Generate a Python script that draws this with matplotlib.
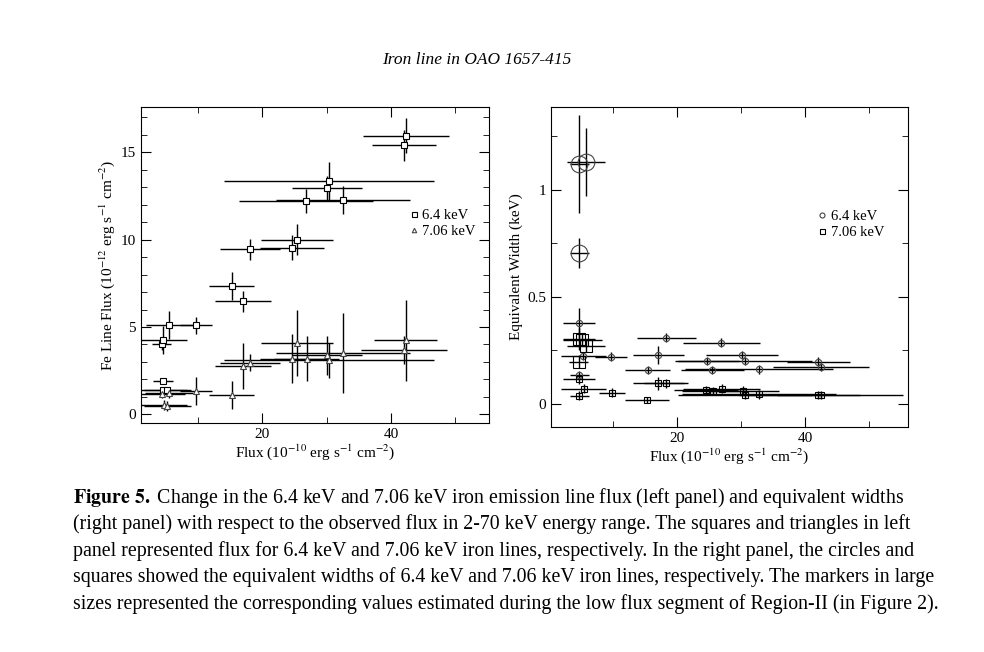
import matplotlib.pyplot as plt
from matplotlib.ticker import AutoMinorLocator

plt.rcParams['font.family'] = ['Liberation Serif', 'DejaVu Serif']
plt.rcParams['mathtext.fontset'] = 'stix'

# left panel: Fe line flux vs continuum flux
sq_x = [4.4, 4.6, 5.6, 9.7, 15.3, 17.0, 18.1, 24.65, 25.4, 26.8, 30.1, 30.4, 32.6, 42.0, 42.3, 4.6, 4.6, 5.3]
sq_xe = [1.5, 3.7, 3.7, 2.5, 3.5, 4.3, 4.7, 5.0, 5.6, 10.4, 5.4, 16.3, 10.4, 4.9, 6.7, 1.5, 3.7, 3.7]
sq_y = [4.0, 4.25, 5.1, 5.1, 7.33, 6.46, 9.45, 9.54, 10.0, 12.23, 12.95, 13.35, 12.29, 15.4, 15.96, 1.9, 1.39, 1.39]
sq_ye = [0.3, 0.8, 0.8, 0.5, 0.8, 0.6, 0.6, 0.7, 0.9, 0.7, 0.7, 1.1, 0.8, 0.9, 1.0, 0.15, 0.2, 0.2]

tr_x = [4.4, 4.7, 5.3, 5.5, 9.7, 15.3, 17.0, 18.1, 24.65, 25.4, 26.9, 30.1, 30.4, 32.6, 42.0, 42.3]
tr_xe = [3.7, 3.7, 3.7, 3.7, 2.5, 3.5, 4.3, 4.7, 5.0, 5.6, 5.0, 5.4, 16.3, 10.4, 6.7, 4.9]
tr_y = [1.14, 0.53, 0.46, 1.24, 1.31, 1.12, 2.76, 2.95, 3.18, 4.1, 3.18, 3.37, 3.08, 3.52, 3.68, 4.23]
tr_ye = [0.2, 0.3, 0.3, 0.3, 0.8, 0.8, 1.3, 0.5, 1.4, 1.9, 1.3, 1.1, 1.0, 2.3, 0.8, 2.3]

# right panel: equivalent widths
c_x = [4.6, 5.36, 4.7, 9.7, 15.4, 17.1, 18.3, 24.7, 25.5, 26.9, 30.2, 30.6, 32.8, 42.1, 42.5]
c_xe = [2.5, 3.5, 1.5, 2.5, 3.5, 4.0, 4.6, 5.0, 4.9, 6.0, 5.6, 10.5, 11.5, 4.9, 7.5]
c_y = [0.38, 0.224, 0.135, 0.221, 0.159, 0.229, 0.31, 0.2, 0.159, 0.287, 0.229, 0.2, 0.162, 0.198, 0.174]
c_ye = [0.07, 0.02, 0.02, 0.02, 0.02, 0.04, 0.02, 0.02, 0.02, 0.02, 0.02, 0.02, 0.02, 0.02, 0.02]
cL_x = [4.7, 5.73, 4.7]
cL_xe = [1.5, 3.0, 1.5]
cL_y = [1.12, 1.13, 0.707]
cL_ye = [0.23, 0.16, 0.07]

s_x = [4.7, 5.4, 4.7, 9.8, 15.3, 17.1, 18.3, 24.6, 25.6, 27.0, 30.3, 30.6, 32.8, 42.1, 42.5]
s_xe = [2.5, 3.5, 1.5, 2.0, 3.5, 4.0, 3.4, 5.0, 4.9, 6.0, 5.6, 10.5, 12.0, 6.5, 12.8]
s_y = [0.115, 0.072, 0.039, 0.053, 0.019, 0.097, 0.097, 0.065, 0.061, 0.072, 0.062, 0.044, 0.045, 0.042, 0.042]
s_ye = [0.02, 0.02, 0.02, 0.02, 0.015, 0.03, 0.02, 0.02, 0.02, 0.02, 0.02, 0.02, 0.02, 0.02, 0.02]
sL_x = [4.7, 5.2, 5.8, 4.6]
sL_xe = [2.5, 3.0, 3.0, 1.5]
sL_y = [0.304, 0.3, 0.271, 0.198]
sL_ye = [0.05, 0.03, 0.03, 0.03]

fig = plt.figure(figsize=(9.84, 6.52), dpi=100)
ax1 = fig.add_axes([141/984, 1-423/652, 348/984, 316/652])
ax2 = fig.add_axes([551/984, 1-427/652, 357/984, 320/652])

eb = dict(fmt='none', ecolor='black', elinewidth=1.0, capsize=0)
ax1.errorbar(sq_x, sq_y, xerr=sq_xe, yerr=sq_ye, **eb)
ax1.errorbar(tr_x, tr_y, xerr=tr_xe, yerr=tr_ye, **eb)
ax1.plot(sq_x, sq_y, 's', ms=4.5, mfc='white', mec='black', mew=0.8, label='6.4 keV')
ax1.plot(tr_x, tr_y, '^', ms=4, mfc='white', mec='#444444', mew=0.8, label='7.06 keV')
ax1.set_xlim(1.2, 55.2)
ax1.set_ylim(-0.5, 17.6)
ax1.set_xticks([20, 40])
ax1.set_yticks([0, 5, 10, 15])
ax1.set_xlabel(r'Flux (10$^{-10}$ erg s$^{-1}$ cm$^{-2}$)', fontsize=11, labelpad=1)
ax1.set_ylabel(r'Fe Line Flux (10$^{-12}$ erg s$^{-1}$ cm$^{-2}$)', fontsize=11, labelpad=3)
ax1.legend(loc='upper right', bbox_to_anchor=(1.0, 0.72), frameon=False, fontsize=10.5,
           handletextpad=0.1, handlelength=1, markerscale=0.8, labelspacing=0.2)

ax2.errorbar(c_x, c_y, xerr=c_xe, yerr=c_ye, **eb)
ax2.errorbar(cL_x, cL_y, xerr=cL_xe, yerr=cL_ye, **eb)
ax2.errorbar(s_x, s_y, xerr=s_xe, yerr=s_ye, **eb)
ax2.errorbar(sL_x, sL_y, xerr=sL_xe, yerr=sL_ye, **eb)
ax2.plot(c_x, c_y, 'o', ms=4.5, mfc='none', mec='#444444', mew=0.8, label='6.4 keV')
ax2.plot(cL_x, cL_y, 'o', ms=12, mfc='none', mec='#444444', mew=0.8)
ax2.plot(s_x, s_y, 's', ms=4.5, mfc='none', mec='black', mew=0.8, label='7.06 keV')
ax2.plot(sL_x, sL_y, 's', ms=9, mfc='none', mec='black', mew=0.8)
ax2.set_xlim(0.3, 56.1)
ax2.set_ylim(-0.107, 1.386)
ax2.set_xticks([20, 40])
ax2.set_yticks([0, 0.5, 1])
ax2.set_yticklabels(['0', '0.5', '1'])
ax2.set_xlabel(r'Flux (10$^{-10}$ erg s$^{-1}$ cm$^{-2}$)', fontsize=11, labelpad=1)
ax2.set_ylabel('Equivalent Width (keV)', fontsize=11, labelpad=3)
ax2.legend(loc='upper right', bbox_to_anchor=(0.97, 0.72), frameon=False, fontsize=10.5,
           handletextpad=0.1, handlelength=1, markerscale=0.8, labelspacing=0.2)

for ax in (ax1, ax2):
    ax.xaxis.set_minor_locator(AutoMinorLocator(2))
    ax.yaxis.set_minor_locator(AutoMinorLocator(5 if ax is ax1 else 2))
    ax.tick_params(which='both', direction='in', top=True, right=True, labelsize=11)
    ax.tick_params(which='major', length=7)
    ax.tick_params(which='minor', length=4)
    for sp in ax.spines.values():
        sp.set_linewidth(0.8)

fig.text(0.485, 1-60/652, 'Iron line in OAO 1657-415', ha='center', va='center', fontsize=12.5, style='italic')

caption = [
    r'$\bf{Figure\ 5.}$ Change in the 6.4 keV and 7.06 keV iron emission line flux (left panel) and equivalent widths',
    '(right panel) with respect to the observed flux in 2-70 keV energy range. The squares and triangles in left',
    'panel represented flux for 6.4 keV and 7.06 keV iron lines, respectively. In the right panel, the circles and',
    'squares showed the equivalent widths of 6.4 keV and 7.06 keV iron lines, respectively. The markers in large',
    'sizes represented the corresponding values estimated during the low flux segment of Region-II (in Figure 2).',
]
for i, line in enumerate(caption):
    fig.text(73/984, 1-(498 + 26.5*i)/652, line, ha='left', va='center', fontsize=14.3)

fig.savefig('out.png', dpi=100)
